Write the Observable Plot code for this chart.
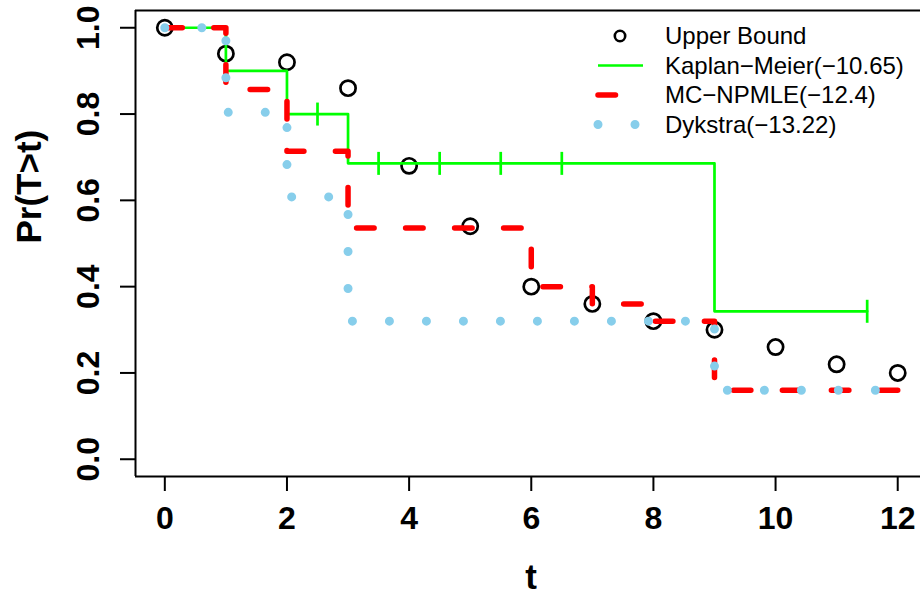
<!DOCTYPE html>
<html><head><meta charset="utf-8">
<script src="https://cdn.jsdelivr.net/npm/d3@7"></script>
<script src="https://cdn.jsdelivr.net/npm/@observablehq/plot@0.6"></script>
<style>body{margin:0;background:#fff} #chart{width:920px;height:596px}</style>
</head><body><div id="chart"></div>
<script>
// Upper bound points
const ubT = [0, 1, 2, 3, 4, 5, 6, 7, 8, 9, 10, 11, 12];
const ubS = [1.00, 0.94, 0.92, 0.86, 0.68, 0.54, 0.40, 0.36, 0.32, 0.30, 0.26, 0.22, 0.20];
// Kaplan–Meier step curve
const kmT = [0, 1, 2, 3, 9, 11.5];
const kmS = [1.0, 0.9, 0.8, 0.6857, 0.3429, 0.3429];
const kmCensT = [2.5, 3.5, 4.5, 5.5, 6.5, 11.5];
const kmCensS = [0.8, 0.6857, 0.6857, 0.6857, 0.6857, 0.3429];
// MC-NPMLE step curve
const mcT = [0, 1, 2, 3, 6, 7, 8, 9, 12];
const mcS = [1.0, 0.857, 0.714, 0.536, 0.40, 0.36, 0.32, 0.16, 0.16];
// Dykstra step curve
const dkT = [0, 1, 2, 3, 9, 12];
const dkS = [1.0, 0.804, 0.608, 0.32, 0.16, 0.16];
// Axes
const xTicks = [0, 2, 4, 6, 8, 10, 12];
const yTicks = [0, 0.2, 0.4, 0.6, 0.8, 1.0];
const xDomain = [-0.48, 12.373];
const yDomain = [-0.04, 1.04];
const legendLabels = ["Upper Bound", "Kaplan\u2212Meier(\u221210.65)", "MC\u2212NPMLE(\u221212.4)", "Dykstra(\u221213.22)"];
const colors = {ub: "#000000", km: "#00FF00", mc: "#FF0000", dk: "#87CEEB"};

const font = "'Liberation Sans', Arial, Helvetica, sans-serif";
const vbar = {draw(ctx, size) { const r = Math.sqrt(size / Math.PI); ctx.moveTo(0, -r); ctx.lineTo(0, r); }};

const plot = Plot.plot({
  width: 920, height: 596,
  marginLeft: 135, marginRight: 0, marginTop: 10, marginBottom: 120,
  style: {fontFamily: font, background: "white", color: "black"},
  x: {domain: xDomain},
  y: {domain: yDomain},
  marks: [
    Plot.ruleY([yDomain[1], yDomain[0]], {stroke: "black", strokeWidth: 2}),
    Plot.ruleX([xDomain[0]], {stroke: "black", strokeWidth: 2}),
    Plot.axisX(xTicks, {tickSize: 15, tickPadding: 15, fontSize: 32, fontWeight: "bold", strokeWidth: 2, label: null, tickFormat: d => String(d)}),
    Plot.axisY(yTicks, {tickSize: 15, tickPadding: 22, tickRotate: -90, fontSize: 32, fontWeight: "bold", strokeWidth: 2, label: null, tickFormat: d3.format(".1f")}),
    Plot.text(["t"], {text: d => d, frameAnchor: "bottom", dx: 3, dy: 112, lineAnchor: "bottom", fontSize: 35, fontWeight: "bold"}),
    Plot.text(["Pr(T>t)"], {text: d => d, frameAnchor: "left", dx: -95, rotate: -90, lineAnchor: "bottom", fontSize: 35, fontWeight: "bold"}),
    Plot.dot(ubT, {x: d => d, y: (d, i) => ubS[i], r: 7.6, stroke: colors.ub, strokeWidth: 2.7, fill: "none"}),
    Plot.line(kmT, {x: d => d, y: (d, i) => kmS[i], curve: "step-after", stroke: colors.km, strokeWidth: 2.7}),
    Plot.dot(kmCensT, {x: d => d, y: (d, i) => kmCensS[i], symbol: vbar, r: 11.5, stroke: colors.km, strokeWidth: 2.7}),
    Plot.line(mcT, {x: d => d, y: (d, i) => mcS[i], curve: "step-after", stroke: colors.mc, strokeWidth: 5.5, strokeDasharray: "17.5,31.5", strokeLinecap: "round"}),
    Plot.line(dkT, {x: d => d, y: (d, i) => dkS[i], curve: "step-after", stroke: colors.dk, strokeWidth: 9, strokeDasharray: "0.01,36.99", strokeLinecap: "round"})
  ]
});

// Legend (R-style, no box)
const svg = d3.select(plot);
const lg = svg.append("g");
const rowY = [36, 65.5, 95, 124.5];
const symX0 = 598, symX1 = 643, textX = 665;
lg.append("circle").attr("cx", 620).attr("cy", rowY[0]).attr("r", 5.2).attr("fill", "none").attr("stroke", colors.ub).attr("stroke-width", 2.6);
lg.append("line").attr("x1", symX0).attr("x2", symX1).attr("y1", rowY[1]).attr("y2", rowY[1]).attr("stroke", colors.km).attr("stroke-width", 2.7);
lg.append("line").attr("x1", symX0).attr("x2", symX1).attr("y1", rowY[2]).attr("y2", rowY[2]).attr("stroke", colors.mc).attr("stroke-width", 5.5).attr("stroke-dasharray", "17.5,31.5").attr("stroke-linecap", "round");
lg.append("line").attr("x1", symX0).attr("x2", symX1).attr("y1", rowY[3]).attr("y2", rowY[3]).attr("stroke", colors.dk).attr("stroke-width", 9).attr("stroke-dasharray", "0.01,36.99").attr("stroke-linecap", "round");
legendLabels.forEach((s, i) => {
  lg.append("text").attr("x", textX).attr("y", rowY[i]).attr("dy", "0.35em")
    .style("font-family", font).style("font-size", "24px").style("text-anchor", "start").style("fill", "black")
    .text(s);
});

document.getElementById("chart").appendChild(plot);
</script>
</body></html>
